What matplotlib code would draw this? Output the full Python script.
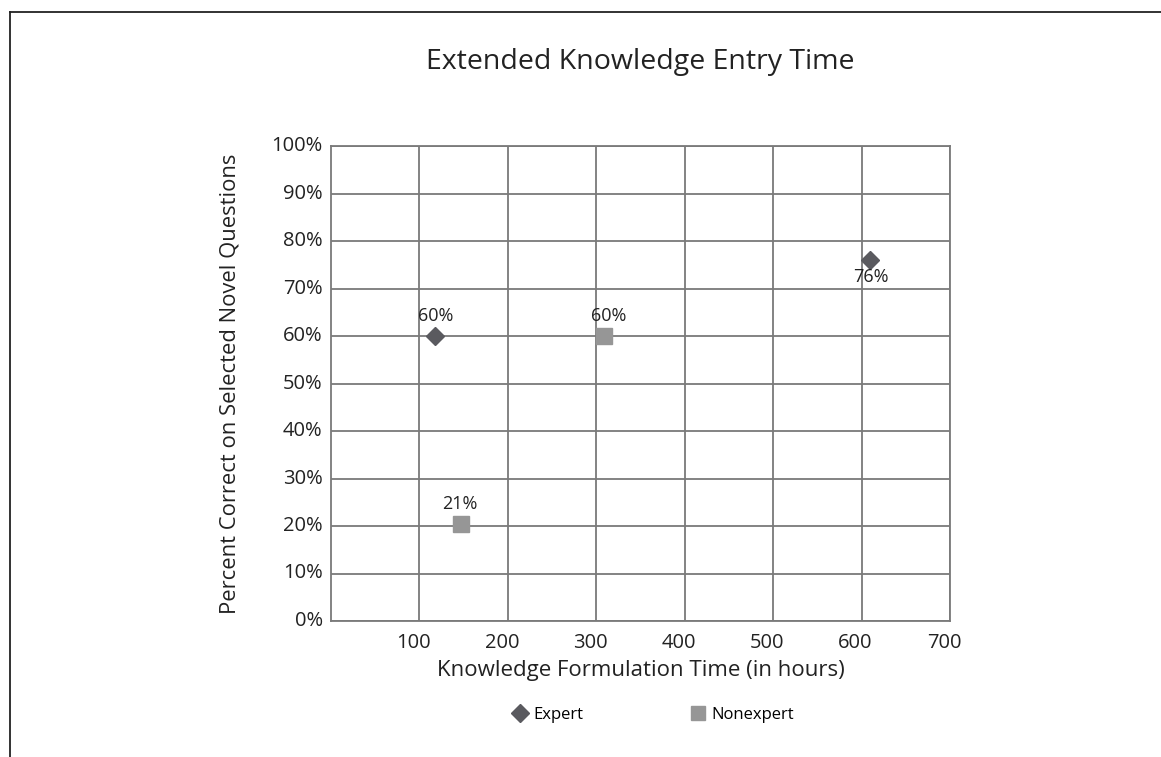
import matplotlib.pyplot as plt
import matplotlib.transforms as mtransforms
from matplotlib.lines import Line2D

# data
expert_hours = [118, 610]
expert_pct = [60, 76]
nonexpert_hours = [309, 147]
nonexpert_pct = [60, 20.5]
expert_labels = ["60%", "76%"]
nonexpert_labels = ["60%", "21%"]

plt.rcParams['font.family'] = ['Open Sans', 'DejaVu Sans']

fig = plt.figure(figsize=(11.61, 7.57), dpi=100)
W, H = 1161, 757
ax = fig.add_axes([331 / W, 1 - 621 / H, (950 - 331) / W, (621 - 146) / H])

grid_col = '#7a7a7a'
txt_col = '#222222'
ax.set_xlim(0, 700)
ax.set_ylim(0, 100)
ax.set_xticks(range(100, 701, 100))
ax.set_yticks(range(0, 101, 10))
ax.set_yticklabels([f"{v}%" for v in range(0, 101, 10)])
ax.grid(True, color=grid_col, linewidth=1.3)
ax.set_axisbelow(True)
for s in ax.spines.values():
    s.set_color(grid_col)
    s.set_linewidth(1.3)
ax.tick_params(length=0, labelsize=14.5, colors=txt_col)
ax.tick_params(axis='x', pad=9)
ax.tick_params(axis='y', pad=6)

# x tick labels sit a little left of their gridlines, y labels a little high
dx = mtransforms.ScaledTranslation(-6 / 100, 0, fig.dpi_scale_trans)
for t in ax.get_xticklabels():
    t.set_transform(t.get_transform() + dx)
dy = mtransforms.ScaledTranslation(0, 2.5 / 100, fig.dpi_scale_trans)
for t in ax.get_yticklabels():
    t.set_transform(t.get_transform() + dy)

ax.plot(expert_hours, expert_pct, linestyle='none', marker='D', markersize=9.5,
        color='#5a5a5f', zorder=3, clip_on=False)
ax.plot(nonexpert_hours, nonexpert_pct, linestyle='none', marker='s', markersize=11,
        color='#969696', zorder=3, clip_on=False)

# value labels
lab = dict(textcoords='offset points', ha='center', fontsize=13, color=txt_col)
ax.annotate(expert_labels[0], (expert_hours[0], expert_pct[0]), xytext=(0, 8), va='bottom', **lab)
ax.annotate(expert_labels[1], (expert_hours[1], expert_pct[1]), xytext=(0, -6), va='top', **lab)
ax.annotate(nonexpert_labels[0], (nonexpert_hours[0], nonexpert_pct[0]), xytext=(3, 8), va='bottom', **lab)
ax.annotate(nonexpert_labels[1], (nonexpert_hours[1], nonexpert_pct[1]), xytext=(-1, 8), va='bottom', **lab)

ax.set_xlabel("Knowledge Formulation Time (in hours)", fontsize=16, color=txt_col, labelpad=5)
ax.set_ylabel("Percent Correct on Selected Novel Questions", fontsize=15.8, color=txt_col, labelpad=22)
fig.text(640 / W, 1 - 62 / H, "Extended Knowledge Entry Time", ha='center', va='center',
         fontsize=20.5, color=txt_col)

handles = [Line2D([], [], linestyle='none', marker='D', markersize=9.5, color='#5a5a5f'),
           Line2D([], [], linestyle='none', marker='s', markersize=10, color='#969696')]
fig.legend(handles, ["Expert", "Nonexpert"], loc='center', bbox_to_anchor=(652 / W, 1 - 715 / H),
           ncol=2, frameon=False, fontsize=12, columnspacing=6.3, handletextpad=0.2,
           handlelength=1.2)

# page frame (top and left edges)
fig.add_artist(Line2D([9.5 / W, 9.5 / W], [0, 1 - 11.5 / H], transform=fig.transFigure,
                      color=txt_col, linewidth=1.3))
fig.add_artist(Line2D([9.5 / W, 1], [1 - 11.5 / H, 1 - 11.5 / H], transform=fig.transFigure,
                      color=txt_col, linewidth=1.3))

fig.savefig("out.png", dpi=100)
